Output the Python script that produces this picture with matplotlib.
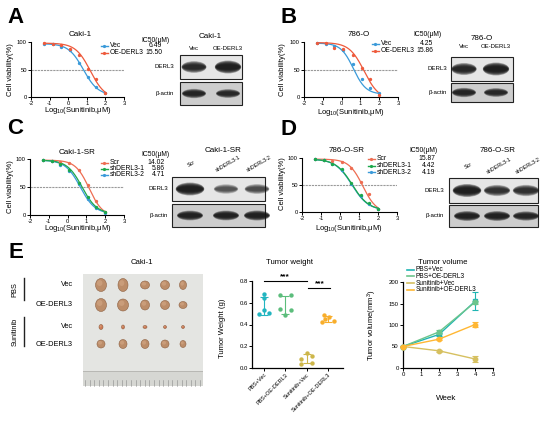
import numpy as np
import matplotlib
matplotlib.use('Agg')
import matplotlib.pyplot as plt
from matplotlib.patches import Rectangle, Ellipse

plt.rcParams['font.family'] = ['Liberation Sans', 'DejaVu Sans']
plt.rcParams['mathtext.fontset'] = 'custom'
plt.rcParams['mathtext.rm'] = 'Liberation Sans'
plt.rcParams['mathtext.it'] = 'Liberation Sans:italic'
plt.rcParams['mathtext.bf'] = 'Liberation Sans:bold'
plt.rcParams['axes.unicode_minus'] = False

# ------------------------------------------------------------------ data
dose_log = [-1.3, -0.82, -0.4, 0.1, 0.58, 1.08, 1.52, 2.0]

A_groups = ['Vec', 'OE-DERL3']
A_ic50 = [6.49, 15.50]
A_points = [[97, 96, 91, 86, 62, 36, 18, 8],
            [98, 97, 94, 88, 77, 51, 33, 7]]
A_fit = [[97, 3, 1.1], [98, -3, 1.1]]          # top, bottom, hill

B_groups = ['Vec', 'OE-DERL3']
B_ic50 = [4.25, 15.86]
B_points = [[98, 97, 93, 86, 60, 33, 17, 8],
            [99, 98, 90, 88, 77, 53, 33, 4]]
B_fit = [[98, 5, 1.3], [99, -5, 1.1]]

C_groups = ['Scr', 'shDERL3-1', 'shDERL3-2']
C_ic50 = [14.02, 5.86, 4.71]
C_points = [[98, 97, 95, 92, 80, 54, 25, 6],
            [98, 96, 91, 81, 58, 32, 15, 5],
            [98, 96, 90, 79, 55, 29, 13, 4]]
C_fit = [[98, -3, 1.2], [98, 2, 1.1], [98, 2, 1.1]]

D_groups = ['Scr', 'shDERL3-1', 'shDERL3-2']
D_ic50 = [15.87, 4.42, 4.19]
D_points = [[98, 97, 95, 92, 82, 55, 34, 6],
            [98, 96, 89, 80, 54, 32, 17, 6],
            [98, 96, 88, 78, 52, 30, 15, 6]]
D_fit = [[98, -2, 1.2], [98, 3, 1.0], [98, 3, 1.0]]

# western blot band intensities (relative)
A_lanes = ['Vec', 'OE-DERL3']
A_derl3 = [0.80, 1.00]
A_actin = [0.85, 0.80]
B_lanes = ['Vec', 'OE-DERL3']
B_derl3 = [0.85, 1.00]
B_actin = [0.85, 0.80]
C_lanes = ['Scr', 'shDERL3-1', 'shDERL3-2']
C_derl3 = [1.00, 0.45, 0.50]
C_actin = [0.90, 0.90, 0.92]
D_lanes = ['Scr', 'shDERL3-1', 'shDERL3-2']
D_derl3 = [1.00, 0.70, 0.72]
D_actin = [0.90, 0.90, 0.85]

# xenograft photo (tumour sizes, px)
photo_rows = ['Vec', 'OE-DERL3', 'Vec', 'OE-DERL3']
tumor_w = [[11, 10, 9, 9, 7], [11, 11, 9, 9, 8], [4, 3, 4, 3, 3], [8, 8, 8, 8, 6]]
tumor_h = [[13, 13, 8, 9, 9], [13, 12, 10, 9, 7], [5, 4, 3, 3, 3], [8, 9, 9, 8, 7]]

# tumour weight (g)
weight_groups = ['PBS+Vec', 'PBS+OE-DERL3', 'Sunitinib+Vec', 'Sunitinib+OE-DERL3']
w_pbs_vec = [0.68, 0.64, 0.53, 0.50, 0.51]
w_pbs_oe = [0.67, 0.67, 0.54, 0.53, 0.49]
w_sun_vec = [0.14, 0.11, 0.08, 0.05, 0.04]
w_sun_oe = [0.49, 0.47, 0.45, 0.43, 0.42]

# tumour volume (mm3)
weeks = [0, 2, 4]
v_pbs_vec = [50, 78, 155]
v_pbs_oe = [50, 84, 153]
v_sun_vec = [50, 40, 21]
v_sun_oe = [50, 67, 101]
e_pbs_vec = [2, 3, 21]
e_pbs_oe = [2, 4, 3]
e_sun_vec = [2, 3, 6]
e_sun_oe = [2, 2, 6]

# ------------------------------------------------------------------ figure
W, H = 550, 426
fig = plt.figure(figsize=(W / 100, H / 100), dpi=100)
fig.patch.set_facecolor('white')

ov = fig.add_axes([0, 0, 1, 1])
ov.set_xlim(0, W)
ov.set_ylim(H, 0)
ov.axis('off')


def ax_px(x0, y0, x1, y1):
    a = fig.add_axes([x0 / W, 1 - y1 / H, (x1 - x0) / W, (y1 - y0) / H])
    a.patch.set_alpha(0)
    return a


def T(x, y, s, size=5.5, ha='center', va='center', **kw):
    ov.text(x, y, s, fontsize=size, ha=ha, va=va, **kw)


def style(a, lw=0.8, size=4.2):
    for s in ['top', 'right']:
        a.spines[s].set_visible(False)
    for s in ['left', 'bottom']:
        a.spines[s].set_linewidth(lw)
    a.tick_params(labelsize=size, length=2.2, width=0.7, pad=0.8)


def logistic(x, ic50, top, bottom, hill):
    return bottom + (top - bottom) / (1 + 10 ** ((x - np.log10(ic50)) * hill))


def curve_panel(box, title, tpos, groups, ic50, pts, fit, colors, order,
                leg, ic_hdr, ylab, xlab):
    a = ax_px(*box)
    style(a)
    a.set_xlim(-2, 3)
    a.set_ylim(0, 100)
    a.set_xticks([-2, -1, 0, 1, 2, 3])
    a.set_yticks([0, 50, 100])
    a.axhline(50, color='#9a9a9a', lw=0.8, ls=(0, (2, 0.8)), zorder=1)
    xs = np.linspace(min(dose_log), max(dose_log), 200)
    for i in order:
        top, bot, hill = fit[i]
        a.plot(xs, logistic(xs, ic50[i], top, bot, hill), color=colors[i],
               lw=0.9, clip_on=False, zorder=3)
        a.plot(dose_log, pts[i], ls='none', marker='o', ms=1.4,
               color=colors[i], clip_on=False, zorder=4)
    T(tpos[0], tpos[1], title, 5.8)
    lx, ly0, dy, vx = leg
    T(ic_hdr[0], ic_hdr[1], 'IC50(μM)', 4.9)
    for k, g in enumerate(groups):
        y = ly0 + k * dy
        ov.plot([lx, lx + 6.5], [y, y], color=colors[k], lw=1.0)
        ov.plot([lx + 3.2], [y], marker='o', ms=1.3, color=colors[k])
        T(lx + 8.5, y, g, 4.9, ha='left')
        T(vx, y, f'{ic50[k]:.2f}', 4.9, ha='right')
    T(ylab[0], ylab[1], 'Cell viability(%)', 5.5, rotation=90)
    T(xlab[0], xlab[1], 'Log$_{\\mathregular{10}}$(Sunitinib,μM)', 5.5)


def band(cx, cy, w, h, s):
    for k in range(8):
        f = 1 - k * 0.09
        ov.add_patch(Ellipse((cx, cy), w * (0.85 + 0.15 * f), h * f,
                             color='#141414', alpha=0.3 * s, lw=0))


def blot(title, tpos, lanes, lane_x, lane_y, rot, box_x, dbox, abox,
         derl, act, bw, lab_x):
    T(tpos[0], tpos[1], title, 5.8)
    for lx, name in zip(lane_x, lanes):
        if rot:
            T(lx + 2, lane_y, name, 3.9, rotation=rot, ha='center')
        else:
            T(lx, lane_y, name, 4.3)
    ov.add_patch(Rectangle((box_x[0], dbox[0]), box_x[1] - box_x[0],
                           dbox[1] - dbox[0], fc='#e6e6e6', ec='#222', lw=0.8))
    ov.add_patch(Rectangle((box_x[0], abox[0]), box_x[1] - box_x[0],
                           abox[1] - abox[0], fc='#cdcdcd', ec='#222', lw=0.8))
    dc = (dbox[0] + dbox[1]) / 2
    ac = (abox[0] + abox[1]) / 2
    for lx, d, b in zip(lane_x, derl, act):
        band(lx, dc, bw * (0.8 + 0.3 * d), 7 + 6 * d, d)
        band(lx, ac, bw, 11 * b, b)
    T(lab_x, dc, 'DERL3', 4.4, ha='right')
    T(lab_x, ac, 'β-actin', 4.4, ha='right')


red = '#ee5a3c'
blue = '#3a9ad9'
green = '#1ca84b'
salmon = '#ee6d52'

# ---------------- A
T(7, 23, 'A', 16, ha='left', va='baseline', weight='bold')
curve_panel((31, 42, 124, 97), 'Caki-1', (80, 35), A_groups, A_ic50, A_points,
            A_fit, [blue, red], [0, 1], (101, 45.5, 7, 162), (155, 40),
            (11, 70), (78, 111))
blot('Caki-1', (210, 37), A_lanes, [194, 228], 48, 0, (180, 242), (55, 79),
     (82, 105), A_derl3, A_actin, 24, 174)

# ---------------- B
T(280, 23, 'B', 16, ha='left', va='baseline', weight='bold')
curve_panel((304, 42, 398, 97), '786-O', (359, 35), B_groups, B_ic50, B_points,
            B_fit, [blue, red], [0, 1], (372, 43.5, 7.5, 433), (427, 34),
            (283, 70), (351, 112))
blot('786-O', (482, 38), B_lanes, [464, 496], 47, 0, (451, 513), (57, 81),
     (83, 102), B_derl3, B_actin, 24, 447)

# ---------------- C
T(7, 134, 'C', 16, ha='left', va='baseline', weight='bold')
curve_panel((30, 159, 124, 215), 'Caki-1-SR', (77, 152), C_groups, C_ic50,
            C_points, C_fit, [salmon, green, blue], [0, 2, 1],
            (101, 163, 6, 165), (155, 154), (11, 187), (78, 229))
blot('Caki-1-SR', (223, 151), C_lanes, [190, 226, 257], 164, 30, (172, 265),
     (177, 201), (204, 227), C_derl3, C_actin, 26, 168)

# ---------------- D
T(280, 135, 'D', 16, ha='left', va='baseline', weight='bold')
curve_panel((302, 158, 397, 212), '786-O-SR', (347, 151), D_groups, D_ic50,
            D_points, D_fit, [salmon, green, blue], [0, 2, 1],
            (368, 159, 6.5, 435), (423, 151), (282, 184), (349, 228))
blot('786-O-SR', (498, 150), D_lanes, [467, 497, 526], 166, 30, (449, 538),
     (178, 203), (205, 227), D_derl3, D_actin, 26, 444)

# ---------------- E : photo
T(8, 258, 'E', 16, ha='left', va='baseline', weight='bold')
T(142, 262, 'Caki-1', 5.6)
ov.add_patch(Rectangle((83, 274), 120, 112, fc='#e4e5e2', ec='none'))
ov.add_patch(Rectangle((83, 372), 120, 14, fc='#d6d7d3', ec='none'))
for xt in np.arange(85, 203, 4.6):
    ov.plot([xt, xt], [380, 386], color='#8a8a8a', lw=0.4)
ov.add_patch(Rectangle((83, 371), 120, 1.2, fc='#b8b8b4', ec='none'))
row_y = [285, 305, 327, 344]
col_x = [101, 123, 145, 165, 183]
for r in range(4):
    for c in range(5):
        fc = '#cf7a55' if r == 2 else '#bc8d69'
        ov.add_patch(Ellipse((col_x[c], row_y[r]), tumor_w[r][c], tumor_h[r][c],
                             fc=fc, ec='#8e6244', lw=0.4))
        ov.add_patch(Ellipse((col_x[c] - tumor_w[r][c] * 0.12,
                              row_y[r] - tumor_h[r][c] * 0.15),
                             tumor_w[r][c] * 0.5, tumor_h[r][c] * 0.45,
                             fc='#d4a887', ec='none', alpha=0.6))
for y, s in zip(row_y, photo_rows):
    T(73, y, s, 5.3, ha='right')
T(15, 290, 'PBS', 5.3, rotation=90)
ov.plot([24, 24], [278, 300], color='#222', lw=1.0)
T(15, 332, 'Sunitinib', 5.3, rotation=90)
ov.plot([24, 24], [317, 346], color='#222', lw=1.0)

# ---------------- E : tumour weight
T(290, 262, 'Tumor weight', 5.6)
wc = ['#22b5c0', '#5cbd7c', '#cdb64a', '#f8ae2c']
weights = [w_pbs_vec, w_pbs_oe, w_sun_vec, w_sun_oe]
jitter = [[0, 0, 0, -0.25, 0.25], [-0.25, 0.25, -0.25, 0.25, 0],
          [0, 0.25, -0.25, 0.25, -0.25], [-0.2, 0.05, -0.15, 0.3, -0.3]]
aw = ax_px(252, 281, 343, 368)
style(aw, lw=0.9, size=4.3)
aw.set_xlim(-0.56, 3.7)
aw.set_ylim(0, 0.8)
aw.set_yticks([0, 0.2, 0.4, 0.6, 0.8])
aw.set_yticklabels(['0.0', '0.2', '0.4', '0.6', '0.8'])
aw.set_xticks(range(4))
aw.set_xticklabels(weight_groups, rotation=45, ha='right',
                   rotation_mode='anchor', fontsize=4.0)
for i, vals in enumerate(weights):
    m = np.mean(vals)
    sd = np.std(vals, ddof=1)
    aw.errorbar([i], [m], yerr=[sd], color=wc[i], lw=0.8, capsize=3,
                capthick=0.8, zorder=2)
    aw.scatter(np.array(jitter[i]) + i, vals, s=10, color=wc[i], zorder=3,
               lw=0, clip_on=False)
aw.plot([0, 2], [0.8, 0.8], color='k', lw=0.8, clip_on=False)
aw.text(1.0, 0.805, '***', ha='center', va='bottom', fontsize=6,
        weight='bold')
aw.plot([2.05, 3.1], [0.735, 0.735], color='k', lw=0.8, clip_on=False)
aw.text(2.6, 0.74, '***', ha='center', va='bottom', fontsize=6,
        weight='bold')
T(223, 328, 'Tumor Weight (g)', 5.5, rotation=90)

# ---------------- E : tumour volume
T(443, 262, 'Tumor volume', 5.6)
vc = ['#1fb5b3', '#6cc58c', '#d6c060', '#ffb733']
vols = [v_pbs_vec, v_pbs_oe, v_sun_vec, v_sun_oe]
errs = [e_pbs_vec, e_pbs_oe, e_sun_vec, e_sun_oe]
vnames = ['PBS+Vec', 'PBS+OE-DERL3', 'Sunitinib+Vec', 'Sunitinib+OE-DERL3']
markers = ['s', 'o', 'o', 'o']
av = ax_px(403, 282, 493, 368)
style(av, lw=0.9, size=4.3)
av.set_xlim(0, 5)
av.set_ylim(0, 200)
av.set_xticks(range(6))
av.set_yticks([0, 50, 100, 150, 200])
for i in [2, 3, 1, 0]:
    av.errorbar(weeks, vols[i], yerr=errs[i], color=vc[i], lw=1.0,
                marker=markers[i], ms=3.2, capsize=2, capthick=0.8,
                elinewidth=0.8, clip_on=False, zorder=3 + i)
for k, s in enumerate(vnames):
    y = 269.5 + k * 6.8
    ov.plot([407, 414], [y, y], color=vc[k], lw=1.2)
    T(416, y, s, 4.7, ha='left')
T(372, 325, 'Tumor volume(mm$^{\\mathregular{3}}$)', 5.5, rotation=90)
T(446, 398, 'Week', 5.8)

fig.savefig('out.png', dpi=100)
